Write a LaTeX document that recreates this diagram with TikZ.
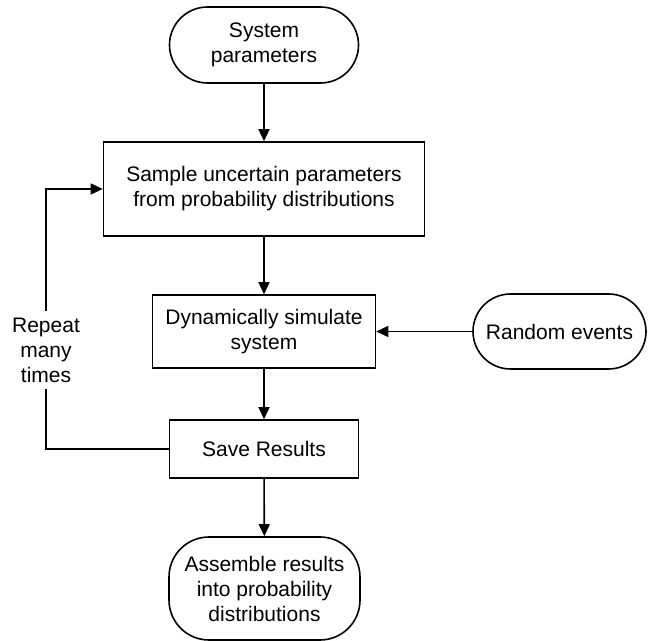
\documentclass[tikz,border=0pt]{standalone}
\usepackage{fontspec}
\setmainfont{Liberation Sans}
\usetikzlibrary{arrows.meta}

\begin{document}
\begin{tikzpicture}[x=0.5pt, y=-0.5pt,
    font=\fontsize{10.5}{12.5}\selectfont,
    every node/.style={align=center},
    terminal/.style={draw, line width=0.8pt, rounded corners=19pt, minimum width=94.5pt, minimum height=38pt},
    process/.style={draw, line width=0.8pt},
    flow/.style={line width=0.8pt, -{Triangle[length=6pt, width=5.5pt]}}]
  \useasboundingbox (0,0) rectangle (648,641);
  % main column
  \node[terminal] (sys) at (264,45) {System\\parameters};
  \node[process, minimum width=160.5pt, minimum height=47pt] (sample) at (264,189) {Sample uncertain parameters\\from probability distributions};
  \node[process, minimum width=111.5pt, minimum height=36.5pt] (dyn) at (264,331.5) {Dynamically simulate\\system};
  \node[process, minimum width=94.5pt, minimum height=29pt] (save) at (264,449) {Save Results};
  \node[draw, line width=0.8pt, rounded corners=20pt, minimum width=95.5pt, minimum height=51.5pt] (asm) at (264.5,588.5) {Assemble results\\into probability\\distributions};
  % side inputs
  \node[terminal, minimum width=86.5pt, minimum height=37.5pt, rounded corners=18.75pt] (rand) at (559.5,331.5) {Random events};
  \node (rep) at (46,350) {Repeat\\many\\times};
  % Arrows
  \foreach \from/\to in {sys/sample, sample/dyn, dyn/save, save/asm}
    \draw[flow] (\from) -- (\to);
  \draw[flow] (rand) -- (dyn);
  \draw[line width=0.8pt] (save.west) -| (rep.south);
  \draw[flow] (rep.north) |- (sample.west);
\end{tikzpicture}
\end{document}
